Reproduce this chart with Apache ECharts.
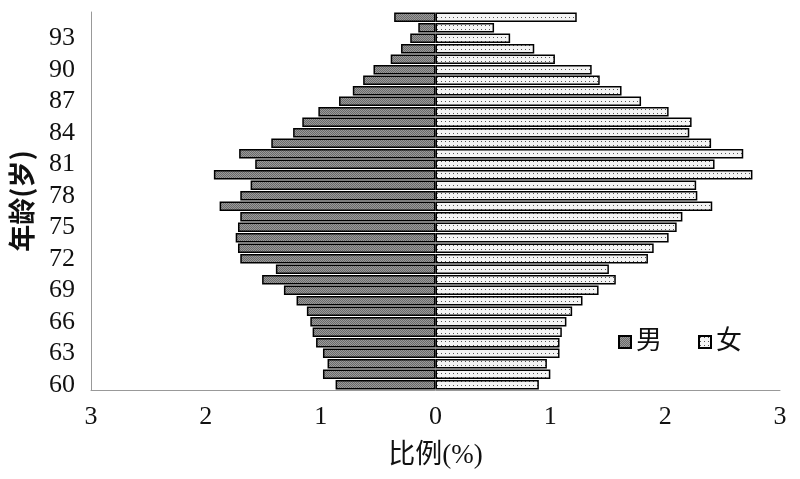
<!DOCTYPE html>
<html><head><meta charset="utf-8">
<script src="https://cdn.jsdelivr.net/npm/echarts@6/dist/echarts.min.js"></script>
<style>html,body{margin:0;padding:0;background:#fff}#c{width:800px;height:479px}</style>
</head><body><div id="c"></div>
<script>
const ages = [];
for (let a = 60; a <= 95; a++) ages.push(String(a));
// values listed from age 60 up to 95 (percent)
const male = [0.87,0.98,0.94,0.98,1.04,1.07,1.09,1.12,1.21,1.32,1.51,1.39,1.70,1.72,1.74,1.72,1.70,1.88,1.70,1.61,1.93,1.57,1.71,1.43,1.24,1.16,1.02,0.84,0.72,0.63,0.54,0.39,0.30,0.22,0.15,0.36];
const female = [0.90,1.00,0.97,1.08,1.08,1.10,1.14,1.19,1.28,1.42,1.57,1.51,1.85,1.90,2.03,2.10,2.15,2.41,2.28,2.27,2.76,2.43,2.68,2.40,2.21,2.23,2.03,1.79,1.62,1.43,1.36,1.04,0.86,0.65,0.51,1.23];
const xTicks = [-3,-2,-1,0,1,2,3];

function makePattern(kind){
  const c = document.createElement('canvas');
  if (kind === 'm') {
    c.width = 2; c.height = 2;
    const g = c.getContext('2d');
    g.fillStyle = '#9a9a9a'; g.fillRect(0,0,2,2);
    g.fillStyle = '#6a6a6a'; g.fillRect(0,0,1,1); g.fillRect(1,1,1,1);
  } else {
    c.width = 4; c.height = 4;
    const g = c.getContext('2d');
    g.fillStyle = '#f4f4f4'; g.fillRect(0,0,4,4);
    g.fillStyle = '#555'; g.fillRect(1,1,1,1);
  }
  return {image: c, repeat: 'repeat'};
}
const font = '"Liberation Serif","Noto Sans CJK SC",serif';
const cjk = '"Noto Sans CJK SC","Liberation Serif",sans-serif';
const chart = echarts.init(document.getElementById('c'));
chart.setOption({
  animation: false,
  grid: {left: 90, right: 20, top: 12, bottom: 89},
  legend: {
    left: 613, top: 324, itemGap: 36, itemWidth: 12, itemHeight: 12,
    icon: 'rect',
    textStyle: {fontFamily: font, fontSize: 26, color: '#111'},
    data: ['男','女']
  },
  xAxis: {
    type: 'value', min: -3, max: 3, interval: 1,
    axisLine: {show: true, lineStyle: {color: '#999', width: 1}},
    axisTick: {show: false}, splitLine: {show: false},
    axisLabel: {fontFamily: font, fontSize: 26, color: '#111', margin: 14,
      formatter: v => String(Math.abs(v))},
    name: '比例(%)', nameLocation: 'middle', nameGap: 52,
    nameTextStyle: {fontFamily: font, fontSize: 27, color: '#111'}
  },
  yAxis: {
    type: 'category', data: ages,
    axisLine: {show: true, onZero: false, lineStyle: {color: '#999', width: 1}},
    axisTick: {show: false},
    axisLabel: {fontFamily: font, fontSize: 26, color: '#111', margin: 16,
      interval: (i) => i % 3 === 0},
    name: '年龄(岁)', nameLocation: 'middle', nameGap: 56, nameRotate: 90,
    nameTextStyle: {fontFamily: cjk, fontSize: 27, color: '#111', fontWeight: 'bold'}
  },
  series: [
    {name: '男', type: 'bar', stack: 's', barCategoryGap: '8%',
     data: male.map(v => -v),
     itemStyle: {color: makePattern('m'), borderColor: '#000', borderWidth: 1.5}},
    {name: '女', type: 'bar', stack: 's', barCategoryGap: '8%',
     data: female,
     itemStyle: {color: makePattern('f'), borderColor: '#000', borderWidth: 1.5}}
  ]
});
</script></body></html>
